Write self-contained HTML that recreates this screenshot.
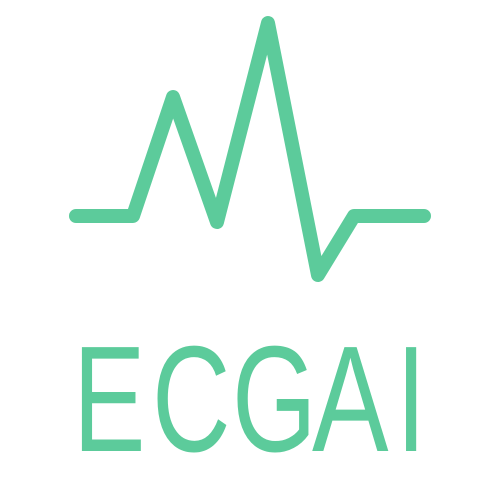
<!DOCTYPE html>
<html><head><meta charset="utf-8"><style>
html,body{margin:0;padding:0;background:#fff;width:500px;height:500px;overflow:hidden}
</style></head><body>
<svg width="500" height="500" viewBox="0 0 500 500" xmlns="http://www.w3.org/2000/svg">
<polyline points="76,216 133,216 173,97 217,222 268,23 318,275 354,216 424,216" fill="none" stroke="#5ccb9b" stroke-width="14" stroke-linecap="round" stroke-linejoin="round"/>
<g font-family="Liberation Sans, sans-serif" font-size="151" fill="#5ccb9b">
<text transform="translate(73,451) scale(0.72,1)">E</text>
<text transform="translate(152,451) scale(0.72,1)">C</text>
<text transform="translate(232,451) scale(0.72,1)">G</text>
<text transform="translate(312,451) scale(0.76,1)">A</text>
<text transform="translate(396,451) scale(0.72,1)">I</text>
</g>
</svg>
</body></html>
